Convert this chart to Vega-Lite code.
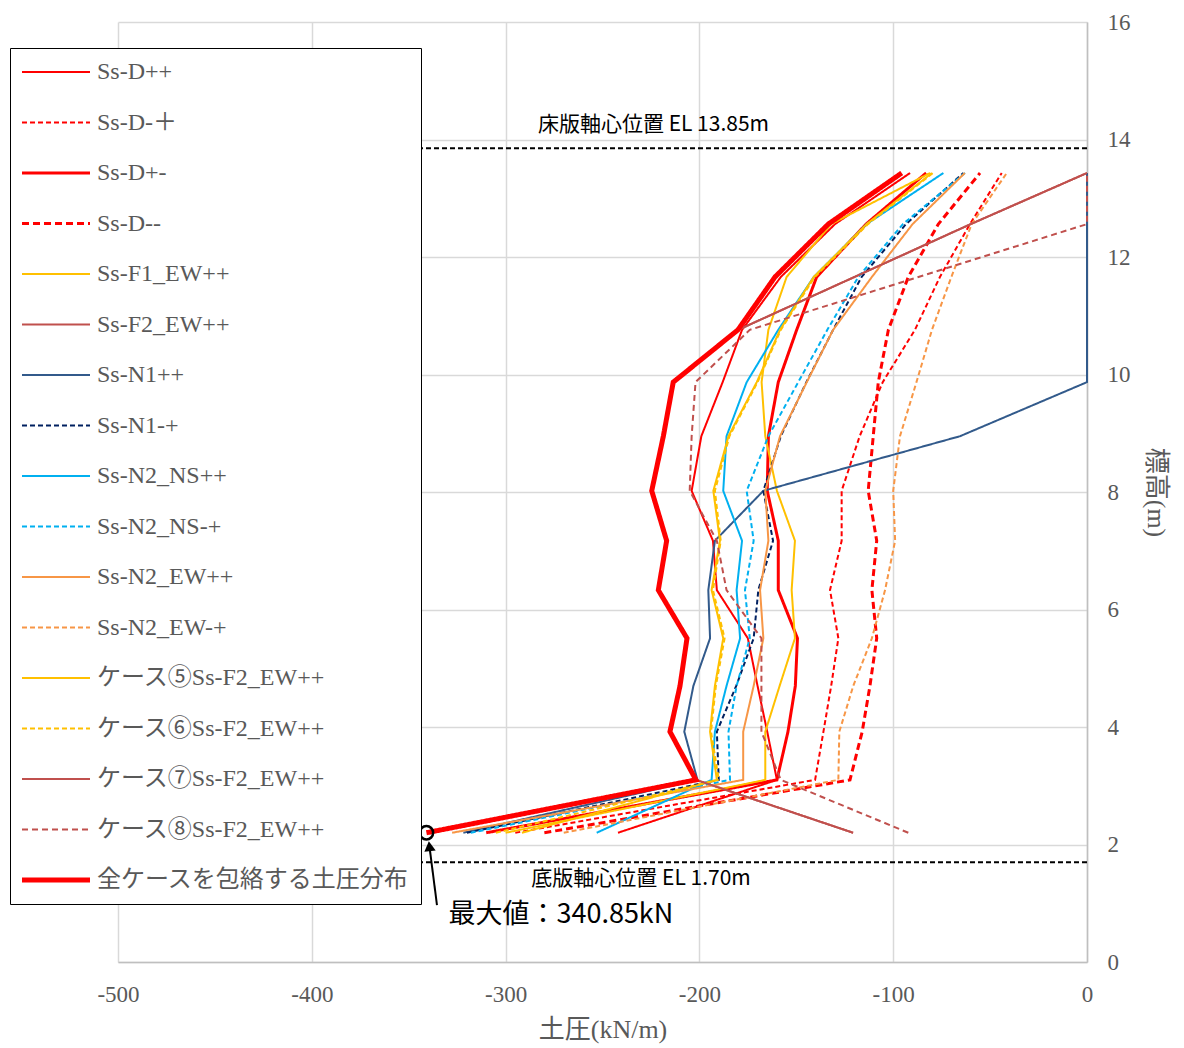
{
  "$schema": "https://vega.github.io/schema/vega-lite/v6.json",
  "width": 969,
  "height": 940,
  "autosize": {"type": "none"},
  "padding": {"left": 118, "top": 22, "right": 97, "bottom": 86},
  "background": "white",
  "config": {"view": {"stroke": null}, "font": "Liberation Serif"},
  "layer": [
    {
      "data": {"values": [{"el": 13.85}, {"el": 1.7}]},
      "mark": {"type": "rule", "color": "black", "strokeWidth": 2, "strokeDash": [5, 3]},
      "encoding": {"y": {"field": "el", "type": "quantitative"}}
    },
    {
      "data": {"values": [
        {"t": "床版軸心位置 EL 13.85m", "lx": -223.7, "ly": 14.25},
        {"t": "底版軸心位置 EL 1.70m", "lx": -230.1, "ly": 1.41}
      ]},
      "mark": {"type": "text", "font": "Noto Sans CJK JP", "fontSize": 21, "color": "black", "align": "center", "baseline": "middle"},
      "encoding": {
        "x": {"field": "lx", "type": "quantitative"},
        "y": {"field": "ly", "type": "quantitative"},
        "text": {"field": "t"}
      }
    },
    {
      "data": {"values": [
        {"y": 2.2, "Ss-D++": -242, "Ss-D-＋": -295, "Ss-D+-": -310, "Ss-D--": -280, "Ss-F1_EW++": -300, "Ss-F2_EW++": -120.7, "Ss-N1++": -321.8, "Ss-N1-+": -320, "Ss-N2_NS++": -253, "Ss-N2_NS-+": -318, "Ss-N2_EW++": -327.6, "Ss-N2_EW-+": -270, "ケース⑤Ss-F2_EW++": -291.6, "ケース⑥Ss-F2_EW++": -305, "ケース⑦Ss-F2_EW++": -120.7, "ケース⑧Ss-F2_EW++": -92.2, "全ケースを包絡する土圧分布": -340.85},
        {"y": 3.1, "Ss-D++": -160, "Ss-D-＋": -140.3, "Ss-D+-": -160, "Ss-D--": -122.3, "Ss-F1_EW++": -166, "Ss-F2_EW++": -201.7, "Ss-N1++": -201, "Ss-N1-+": -190, "Ss-N2_NS++": -193.7, "Ss-N2_NS-+": -184.2, "Ss-N2_EW++": -177.4, "Ss-N2_EW-+": -128.3, "ケース⑤Ss-F2_EW++": -191, "ケース⑥Ss-F2_EW++": -190, "ケース⑦Ss-F2_EW++": -201.7, "ケース⑧Ss-F2_EW++": -158, "全ケースを包絡する土圧分布": -201.8},
        {"y": 3.92, "Ss-D++": -165, "Ss-D-＋": -136, "Ss-D+-": -154.3, "Ss-D--": -116, "Ss-F1_EW++": -166, "Ss-F2_EW++": -215.2, "Ss-N1++": -207.8, "Ss-N1-+": -191, "Ss-N2_NS++": -192, "Ss-N2_NS-+": -185, "Ss-N2_EW++": -177.4, "Ss-N2_EW-+": -127.8, "ケース⑤Ss-F2_EW++": -194.5, "ケース⑥Ss-F2_EW++": -194, "ケース⑦Ss-F2_EW++": -215.2, "ケース⑧Ss-F2_EW++": -168, "全ケースを包絡する土圧分布": -215.2},
        {"y": 4.7, "Ss-D++": -170, "Ss-D-＋": -132, "Ss-D+-": -150.5, "Ss-D--": -112, "Ss-F1_EW++": -158.6, "Ss-F2_EW++": -210, "Ss-N1++": -203.1, "Ss-N1-+": -181, "Ss-N2_NS++": -186, "Ss-N2_NS-+": -180.8, "Ss-N2_EW++": -172, "Ss-N2_EW-+": -120.6, "ケース⑤Ss-F2_EW++": -192, "ケース⑥Ss-F2_EW++": -191.5, "ケース⑦Ss-F2_EW++": -210, "ケース⑧Ss-F2_EW++": -168, "全ケースを包絡する土圧分布": -210},
        {"y": 5.51, "Ss-D++": -175, "Ss-D-＋": -128.3, "Ss-D+-": -149.4, "Ss-D--": -108.5, "Ss-F1_EW++": -150.7, "Ss-F2_EW++": -206.4, "Ss-N1++": -194.5, "Ss-N1-+": -172, "Ss-N2_NS++": -179, "Ss-N2_NS-+": -174, "Ss-N2_EW++": -167, "Ss-N2_EW-+": -111, "ケース⑤Ss-F2_EW++": -187.7, "ケース⑥Ss-F2_EW++": -187, "ケース⑦Ss-F2_EW++": -206.4, "ケース⑧Ss-F2_EW++": -168, "全ケースを包絡する土圧分布": -206.4},
        {"y": 6.33, "Ss-D++": -191, "Ss-D-＋": -132.6, "Ss-D+-": -159.3, "Ss-D--": -111, "Ss-F1_EW++": -152.4, "Ss-F2_EW++": -221.2, "Ss-N1++": -195.4, "Ss-N1-+": -169.6, "Ss-N2_NS++": -180.8, "Ss-N2_NS-+": -176.5, "Ss-N2_EW++": -168.7, "Ss-N2_EW-+": -104.2, "ケース⑤Ss-F2_EW++": -193.7, "ケース⑥Ss-F2_EW++": -193, "ケース⑦Ss-F2_EW++": -221.2, "ケース⑧Ss-F2_EW++": -186, "全ケースを包絡する土圧分布": -221.2},
        {"y": 7.17, "Ss-D++": -193, "Ss-D-＋": -126.6, "Ss-D+-": -159.3, "Ss-D--": -108.5, "Ss-F1_EW++": -150.7, "Ss-F2_EW++": -216.9, "Ss-N1++": -192, "Ss-N1-+": -162, "Ss-N2_NS++": -178, "Ss-N2_NS-+": -172, "Ss-N2_EW++": -164.4, "Ss-N2_EW-+": -99, "ケース⑤Ss-F2_EW++": -189.4, "ケース⑥Ss-F2_EW++": -189, "ケース⑦Ss-F2_EW++": -216.9, "ケース⑧Ss-F2_EW++": -191, "全ケースを包絡する土圧分布": -216.9},
        {"y": 8.02, "Ss-D++": -204, "Ss-D-＋": -126.6, "Ss-D+-": -165, "Ss-D--": -112.9, "Ss-F1_EW++": -160, "Ss-F2_EW++": -224.6, "Ss-N1++": -167, "Ss-N1-+": -167, "Ss-N2_NS++": -187.7, "Ss-N2_NS-+": -175.6, "Ss-N2_EW++": -166, "Ss-N2_EW-+": -100, "ケース⑤Ss-F2_EW++": -192.8, "ケース⑥Ss-F2_EW++": -192, "ケース⑦Ss-F2_EW++": -224.6, "ケース⑧Ss-F2_EW++": -205, "全ケースを包絡する土圧分布": -224.6},
        {"y": 8.95, "Ss-D++": -199, "Ss-D-＋": -117.3, "Ss-D+-": -164.4, "Ss-D--": -110.3, "Ss-F1_EW++": -166, "Ss-F2_EW++": -218.6, "Ss-N1++": -65.5, "Ss-N1-+": -158, "Ss-N2_NS++": -186, "Ss-N2_NS-+": -164.4, "Ss-N2_EW++": -158.4, "Ss-N2_EW-+": -96.5, "ケース⑤Ss-F2_EW++": -185, "ケース⑥Ss-F2_EW++": -184.5, "ケース⑦Ss-F2_EW++": -218.6, "ケース⑧Ss-F2_EW++": -204, "全ケースを包絡する土圧分布": -218.6},
        {"y": 9.87, "Ss-D++": -188, "Ss-D-＋": -105.4, "Ss-D+-": -159.3, "Ss-D--": -107.7, "Ss-F1_EW++": -167.9, "Ss-F2_EW++": -213.5, "Ss-N1++": 0, "Ss-N1-+": -144.8, "Ss-N2_NS++": -175.6, "Ss-N2_NS-+": -149, "Ss-N2_EW++": -144.6, "Ss-N2_EW-+": -88, "ケース⑤Ss-F2_EW++": -170.4, "ケース⑥Ss-F2_EW++": -170, "ケース⑦Ss-F2_EW++": -213.5, "ケース⑧Ss-F2_EW++": -202, "全ケースを包絡する土圧分布": -213.5},
        {"y": 10.76, "Ss-D++": -178, "Ss-D-＋": -88.8, "Ss-D+-": -149.8, "Ss-D--": -102.5, "Ss-F1_EW++": -164.4, "Ss-F2_EW++": -180, "Ss-N1++": 0, "Ss-N1-+": -131, "Ss-N2_NS++": -159.3, "Ss-N2_NS-+": -134, "Ss-N2_EW++": -131, "Ss-N2_EW-+": -80, "ケース⑤Ss-F2_EW++": -158.4, "ケース⑥Ss-F2_EW++": -158, "ケース⑦Ss-F2_EW++": -180, "ケース⑧Ss-F2_EW++": -174, "全ケースを包絡する土圧分布": -180.1},
        {"y": 11.66, "Ss-D++": -158, "Ss-D-＋": -75.9, "Ss-D+-": -139.5, "Ss-D--": -92.2, "Ss-F1_EW++": -155, "Ss-F2_EW++": -120, "Ss-N1++": 0, "Ss-N1-+": -116.3, "Ss-N2_NS++": -141, "Ss-N2_NS-+": -118, "Ss-N2_EW++": -111, "Ss-N2_EW-+": -70, "ケース⑤Ss-F2_EW++": -141, "ケース⑥Ss-F2_EW++": -140.5, "ケース⑦Ss-F2_EW++": -120, "ケース⑧Ss-F2_EW++": -87, "全ケースを包絡する土圧分布": -161},
        {"y": 12.56, "Ss-D++": -130, "Ss-D-＋": -60.4, "Ss-D+-": -114, "Ss-D--": -76.7, "Ss-F1_EW++": -132, "Ss-F2_EW++": -60, "Ss-N1++": 0, "Ss-N1-+": -93.4, "Ss-N2_NS++": -113.7, "Ss-N2_NS-+": -95, "Ss-N2_EW++": -90, "Ss-N2_EW-+": -59.5, "ケース⑤Ss-F2_EW++": -113.7, "ケース⑥Ss-F2_EW++": -113, "ケース⑦Ss-F2_EW++": -60, "ケース⑧Ss-F2_EW++": 0, "全ケースを包絡する土圧分布": -133.5},
        {"y": 13.43, "Ss-D++": -91.3, "Ss-D-＋": -44, "Ss-D+-": -83, "Ss-D--": -55.2, "Ss-F1_EW++": -81, "Ss-F2_EW++": 0, "Ss-N1++": 0, "Ss-N1-+": -63.8, "Ss-N2_NS++": -74.1, "Ss-N2_NS-+": -63, "Ss-N2_EW++": -63, "Ss-N2_EW-+": -41.4, "ケース⑤Ss-F2_EW++": -80, "ケース⑥Ss-F2_EW++": -79.5, "ケース⑦Ss-F2_EW++": 0, "ケース⑧Ss-F2_EW++": 0, "全ケースを包絡する土圧分布": -95.6}
      ]},
      "transform": [
        {"fold": ["Ss-D++", "Ss-D-＋", "Ss-D+-", "Ss-D--", "Ss-F1_EW++", "Ss-F2_EW++", "Ss-N1++", "Ss-N1-+", "Ss-N2_NS++", "Ss-N2_NS-+", "Ss-N2_EW++", "Ss-N2_EW-+", "ケース⑤Ss-F2_EW++", "ケース⑥Ss-F2_EW++", "ケース⑦Ss-F2_EW++", "ケース⑧Ss-F2_EW++", "全ケースを包絡する土圧分布"], "as": ["s", "x"]}
      ],
      "mark": {"type": "line"},
      "encoding": {
        "x": {
          "field": "x", "type": "quantitative",
          "scale": {"domain": [-500, 0], "nice": false, "zero": false},
          "axis": {
            "values": [-500, -400, -300, -200, -100, 0],
            "labelExpr": "toString(datum.value)", "labelFlush": false,
            "grid": true, "gridColor": "#d9d9d9", "gridWidth": 1.5,
            "ticks": false, "domainColor": "#bfbfbf", "domainWidth": 1.5,
            "labelFont": "Liberation Serif", "labelFontSize": 23, "labelColor": "#595959", "labelPadding": 21,
            "title": "土圧(kN/m)", "titleFont": "Liberation Serif, Noto Sans CJK JP", "titleFontSize": 26,
            "titleFontWeight": "normal", "titleColor": "#595959", "titlePadding": 10
          }
        },
        "y": {
          "field": "y", "type": "quantitative",
          "scale": {"domain": [0, 16], "nice": false, "zero": false},
          "axis": {
            "orient": "right",
            "values": [0, 2, 4, 6, 8, 10, 12, 14, 16],
            "labelExpr": "toString(datum.value)", "labelFlush": false,
            "grid": true, "gridColor": "#d9d9d9", "gridWidth": 1.5,
            "ticks": false, "domainColor": "#bfbfbf", "domainWidth": 1.5,
            "labelFont": "Liberation Serif", "labelFontSize": 23, "labelColor": "#595959", "labelPadding": 20,
            "title": "標高(m)", "titleFont": "Liberation Serif, Noto Sans CJK JP", "titleFontSize": 26,
            "titleFontWeight": "normal", "titleColor": "#595959", "titleAngle": 90, "titlePadding": 12
          }
        },
        "order": {"field": "y", "type": "quantitative"},
        "strokeWidth": {
          "condition": [
            {"test": "datum.s === '全ケースを包絡する土圧分布'", "value": 5},
            {"test": "datum.s === 'Ss-D+-' || datum.s === 'Ss-D--'", "value": 3}
          ],
          "value": 2
        },
        "color": {
          "field": "s", "type": "nominal",
          "scale": {
            "domain": ["Ss-D++", "Ss-D-＋", "Ss-D+-", "Ss-D--", "Ss-F1_EW++", "Ss-F2_EW++", "Ss-N1++", "Ss-N1-+", "Ss-N2_NS++", "Ss-N2_NS-+", "Ss-N2_EW++", "Ss-N2_EW-+", "ケース⑤Ss-F2_EW++", "ケース⑥Ss-F2_EW++", "ケース⑦Ss-F2_EW++", "ケース⑧Ss-F2_EW++", "全ケースを包絡する土圧分布"],
            "range": ["#FF0000", "#FF0000", "#FF0000", "#FF0000", "#FFC000", "#C0504D", "#325A8B", "#002060", "#00B0F0", "#00B0F0", "#F79646", "#F79646", "#FFC000", "#FFC000", "#C0504D", "#C0504D", "#FF0000"]
          },
          "legend": {
            "title": null, "orient": "none", "legendX": -108, "legendY": 26,
            "padding": 12, "strokeColor": "black", "fillColor": "white", "cornerRadius": 0,
            "symbolType": "M-0.8,0H3.7333", "symbolSize": 900, "labelOffset": 51,
            "labelFont": "Liberation Serif, Noto Sans CJK JP", "labelFontSize": 24, "labelColor": "#595959",
            "labelLimit": 600, "rowPadding": 26.5,
            "encode": {"symbols": {"update": {"strokeWidth": {"signal": "datum.value === '全ケースを包絡する土圧分布' ? 5 : (datum.value === 'Ss-D+-' || datum.value === 'Ss-D--') ? 3 : 2"}}}}
          }
        },
        "strokeDash": {
          "field": "s", "type": "nominal",
          "scale": {
            "domain": ["Ss-D++", "Ss-D-＋", "Ss-D+-", "Ss-D--", "Ss-F1_EW++", "Ss-F2_EW++", "Ss-N1++", "Ss-N1-+", "Ss-N2_NS++", "Ss-N2_NS-+", "Ss-N2_EW++", "Ss-N2_EW-+", "ケース⑤Ss-F2_EW++", "ケース⑥Ss-F2_EW++", "ケース⑦Ss-F2_EW++", "ケース⑧Ss-F2_EW++", "全ケースを包絡する土圧分布"],
            "range": [[1, 0], [5, 3], [1, 0], [7, 4], [1, 0], [1, 0], [1, 0], [5, 3], [1, 0], [5, 3], [1, 0], [5, 3], [1, 0], [5, 3], [1, 0], [6, 4], [1, 0]]
          },
          "legend": {
            "title": null, "orient": "none", "legendX": -108, "legendY": 26,
            "padding": 12, "strokeColor": "black", "fillColor": "white", "cornerRadius": 0,
            "symbolType": "M-0.8,0H3.7333", "symbolSize": 900, "labelOffset": 51,
            "labelFont": "Liberation Serif, Noto Sans CJK JP", "labelFontSize": 24, "labelColor": "#595959",
            "labelLimit": 600, "rowPadding": 26.5,
            "encode": {"symbols": {"update": {"strokeWidth": {"signal": "datum.value === '全ケースを包絡する土圧分布' ? 5 : (datum.value === 'Ss-D+-' || datum.value === 'Ss-D--') ? 3 : 2"}}}}
          }
        }
      }
    },
    {
      "data": {"values": [{"x": -340.85, "y": 2.2, "tx": -335.4, "ty": 0.97, "hx": -339.3, "hy": 1.97, "t": "最大値：340.85kN"}]},
      "layer": [
        {
          "mark": {"type": "point", "shape": "circle", "size": 180, "filled": false, "color": "black", "strokeWidth": 2.5, "opacity": 1},
          "encoding": {"x": {"field": "x", "type": "quantitative"}, "y": {"field": "y", "type": "quantitative"}}
        },
        {
          "mark": {"type": "rule", "color": "black", "strokeWidth": 2},
          "encoding": {
            "x": {"field": "tx", "type": "quantitative"}, "y": {"field": "ty", "type": "quantitative"},
            "x2": {"field": "hx"}, "y2": {"field": "hy"}
          }
        },
        {
          "mark": {"type": "point", "shape": "triangle-up", "size": 130, "filled": true, "color": "black", "opacity": 1, "angle": -7},
          "encoding": {"x": {"field": "hx", "type": "quantitative"}, "y": {"field": "hy", "type": "quantitative"}}
        },
        {
          "mark": {"type": "text", "font": "Noto Sans CJK JP", "fontSize": 27, "color": "black", "align": "left", "baseline": "middle", "dx": 22, "dy": 82},
          "encoding": {"x": {"field": "x", "type": "quantitative"}, "y": {"field": "y", "type": "quantitative"}, "text": {"field": "t"}}
        }
      ]
    }
  ]
}
